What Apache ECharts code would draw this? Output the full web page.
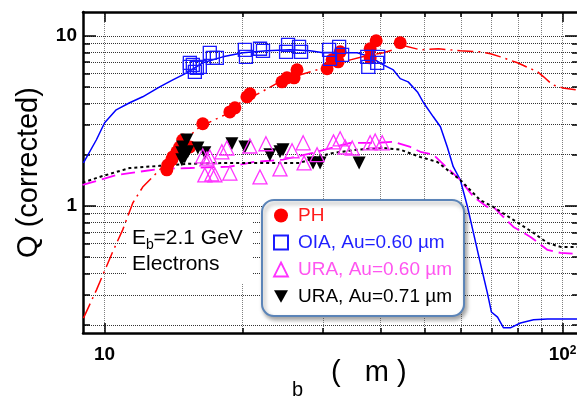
<!DOCTYPE html>
<html>
<head>
<meta charset="utf-8">
<script src="https://cdn.jsdelivr.net/npm/echarts@6/dist/echarts.min.js"></script>
<style>
html, body { margin: 0; padding: 0; background: #fff; }
#chart { width: 577px; height: 397px; }
</style>
</head>
<body>
<div id="chart"></div>
<script>
// tick / grid values
const xGrid = [10, 20, 30, 40, 50, 60, 70, 80, 90, 100]
const xMajor = [10, 100]
const yGrid = [0.2, 0.3, 0.4, 0.5, 0.6, 0.7, 0.8, 0.9, 1, 2, 3, 4, 5, 6, 7, 8, 9, 10]
const yMajor = [1, 10]

// model curves
const oiaCurve = [[8.99,1.79],[9.59,2.44],[10,3.08],[10.6,3.67],[11.34,4.04],[12.11,4.38],[13.19,5.01],[14.09,5.51],[15.11,6.06],[16.38,6.94],[18.12,7.52],[20.04,7.94],[22.62,8.16],[25.4,8.27],[28.1,8.16],[30,7.94],[32.2,7.94],[35.6,7.94],[38,7.52],[40.6,6.75],[42.7,6.3],[44.2,5.6],[46,5.36],[48.2,4.68],[49.7,4.04],[52.2,3.34],[54.1,2.92],[56,2.22],[57.7,1.7],[59.8,1.42],[62,0.986],[66.1,0.462],[68.5,0.308],[69.9,0.238],[72.1,0.222],[74.3,0.192],[76.9,0.192],[80.9,0.205],[86.4,0.214],[92.7,0.216],[100.5,0.216],[107.5,0.216]]
const phCurve = [[8.99,0.219],[9.6,0.321],[10.41,0.536],[10.95,0.723],[11.52,1.04],[12.11,1.29],[12.67,1.46],[13.19,1.63],[14.74,2.35],[16.14,2.92],[18.31,3.43],[19.74,4.04],[21.84,4.62],[24.52,5.51],[29.1,6.31],[34.4,7.22],[38,7.73],[40.6,7.94],[42.7,8.27],[44.2,8.85],[48.9,8.27],[53.6,8.39],[59.8,8.16],[66.1,8.05],[69.6,7.84],[73.2,7.52],[79.7,6.94],[88.2,6.14],[90.9,5.74],[95.1,5.15],[100,4.94],[106.8,4.81]]
const ura60Curve = [[8.95,1.33],[9.75,1.42],[10.62,1.52],[11.34,1.56],[13.19,1.65],[15.35,1.67],[18.77,1.7],[21.08,1.81],[24.52,1.87],[28.5,2.05],[34.4,2.35],[39.4,2.35],[42.7,2.38],[46.5,2.22],[48.9,2.08],[52.2,2.0],[56,1.67],[59.8,1.42],[63.9,1.13],[68.5,0.986],[70.6,0.986],[78.1,0.752],[85.1,0.657],[92.7,0.551],[99,0.529],[107.5,0.522]]
const ura71Curve = [[8.95,1.37],[9.75,1.48],[11.34,1.67],[13.19,1.72],[15.35,1.77],[18.77,1.79],[22.62,1.79],[26.7,1.79],[29.1,1.94],[31.6,2.05],[35.6,2.14],[40.6,2.19],[44.2,2.14],[48.9,1.94],[53.3,1.81],[59.8,1.42],[66.1,1.08],[70.6,0.986],[78.1,0.827],[86.4,0.694],[92.7,0.606],[99,0.574],[107.5,0.574]]

// measured points
const phPoints = [[13.67,1.63],[13.74,1.74],[14.02,1.87],[14.09,1.94],[14.38,2.08],[14.59,2.22],[14.81,2.44],[15.35,2.22],[16.38,3.04],[18.77,3.57],[19.25,3.77],[20.45,4.38],[20.76,4.56],[24.39,5.36],[25.01,5.66],[25.92,5.66],[26.31,6.31],[30.6,6.4],[31.38,7.22],[32.35,7.03],[32.68,8.05],[38,7.42],[38,8.39],[39.17,9.35],[44.2,9.1]]
const oiaPoints = [[15.35,6.57],[15.58,6.75],[15.74,6.14],[15.9,6.48],[16.14,6.57],[15.35,6.94],[16.97,7.94],[17.23,7.42],[17.58,7.42],[20.24,8.27],[20.35,7.52],[21.84,8.39],[22.17,8.16],[24.9,8.05],[25.15,8.85],[26.58,8.61],[26.85,8.05],[30.91,8.27],[31.06,7.32],[32.51,8.61],[33,7.73],[37.45,7.52],[37.64,6.57],[39.37,6.94],[39.57,7.52]]
const ura60Points = [[16.38,1.97],[16.72,1.89],[16.97,1.94],[16.55,1.52],[17.14,1.54],[17.41,1.52],[18.77,1.56],[18.03,2.08],[18.49,2.19],[20.76,2.25],[21.84,1.48],[22.5,2.32],[24.15,1.65],[25.66,2.11],[27.13,2.35],[27.26,1.79],[29.1,2.0],[31.6,2.38],[32.68,2.48],[33.51,2.22],[34.72,2.19],[38,2.35],[38.97,2.41],[40.38,2.35]]
const ura71Points = [[15.11,2.44],[14.81,2.22],[14.74,2.05],[14.96,1.94],[14.74,1.87],[15.19,2.08],[15.98,2.19],[16.55,2.05],[18.96,2.32],[20.24,2.22],[22.96,2.0],[24.15,2.08],[24.52,2.14],[28.52,1.79],[29.54,1.79],[35.95,1.79]]

const FONT = 'Liberation Sans, Arial, sans-serif'
const X_MIN = 8.97, X_MAX = 107.5
const Y_MIN = 0.179, Y_MAX = 13.8

function xAxisDef(pos, values, len, extra) {
  return Object.assign({
    type: 'log', position: pos, min: X_MIN, max: X_MAX,
    axisLine: { show: false },
    axisTick: { inside: true, length: len, customValues: values, lineStyle: { color: '#000', width: 1.5 } },
    axisLabel: { show: false },
    splitLine: { show: false },
    minorTick: { show: false },
  }, extra)
}
function yAxisDef(pos, values, len, extra) {
  return Object.assign({
    type: 'log', position: pos, min: Y_MIN, max: Y_MAX,
    axisLine: { show: false },
    axisTick: { inside: true, length: len, customValues: values, lineStyle: { color: '#000', width: 1.5 } },
    axisLabel: { show: false },
    splitLine: { show: false },
    minorTick: { show: false },
  }, extra)
}

const myChart = echarts.init(document.getElementById('chart'))

myChart.setOption({
  animation: false,
  grid: { left: 83, top: 12, right: 0, bottom: 64, outerBoundsMode: 'none' },
  xAxis: [
    xAxisDef('bottom', xGrid, 5, {
      axisLine: { show: true, lineStyle: { color: '#000', width: 2.5 } },
      axisLabel: {
        show: true, customValues: xMajor, margin: 12,
        color: '#000', fontSize: 19, fontWeight: 'bold', fontFamily: FONT,
        formatter: function (v) {
          const e = Math.round(Math.log10(v))
          return e === 1 ? '10' : '10{sup|' + e + '}'
        },
        rich: { sup: { fontSize: 12, fontWeight: 'bold', fontFamily: FONT, color: '#000', verticalAlign: 'top', padding: [0, 0, 8, 0] } },
      },
      splitLine: { show: true, lineStyle: { type: 'dotted', color: '#808080', width: 1 } },
    }),
    xAxisDef('bottom', xMajor, 10),
    xAxisDef('top', xGrid, 5, { axisLine: { show: true, lineStyle: { color: '#000', width: 2.5 } } }),
    xAxisDef('top', xMajor, 10),
  ],
  yAxis: [
    yAxisDef('left', yGrid, 7, {
      axisLine: { show: true, lineStyle: { color: '#000', width: 2.5 } },
      axisLabel: {
        show: true, customValues: yMajor, margin: 6,
        color: '#000', fontSize: 19, fontWeight: 'bold', fontFamily: FONT,
        formatter: function (v) { return String(Math.round(v)) },
      },
      splitLine: { show: true, lineStyle: { type: 'dotted', color: '#333', width: 1 } },
      name: 'Q (corrected)',
      nameLocation: 'middle',
      nameGap: 40,
      nameTextStyle: { fontSize: 29, color: '#000', fontFamily: FONT },
    }),
    yAxisDef('left', yMajor, 13),
    yAxisDef('right', yGrid, 5),
    yAxisDef('right', yMajor, 12),
  ],
  legend: {
    orient: 'vertical',
    left: 262,
    top: 200,
    padding: [6, 12, 10, 11],
    itemWidth: 14,
    itemHeight: 14,
    itemGap: 8,
    selectedMode: false,
    backgroundColor: '#fff',
    borderColor: '#5b84b8',
    borderWidth: 2,
    borderRadius: 12,
    shadowColor: 'rgba(0,0,0,0.35)',
    shadowBlur: 4,
    shadowOffsetX: 2,
    shadowOffsetY: 3,
    textStyle: { fontSize: 19, fontFamily: FONT, padding: [0, 0, 0, 5] },
    data: [
      { name: 'PH', textStyle: { color: '#ff1a1a' } },
      { name: 'OIA, Au=0.60 µm', textStyle: { color: '#1f1fff' }, itemStyle: { borderWidth: 2 } },
      { name: 'URA, Au=0.60 µm', textStyle: { color: '#ff55f0' }, itemStyle: { borderWidth: 1.8 } },
      { name: 'URA, Au=0.71 µm', textStyle: { color: '#000' }, icon: 'path://M0,0L10,0L5,9Z' },
    ],
  },
  graphic: [
    { type: 'rect', z: 1, shape: { x: 126, y: 216, width: 126, height: 68 }, style: { fill: '#fff' } },
    { type: 'text', z: 10, style: { x: 132, y: 238.6, text: 'E', font: '21px ' + FONT, fill: '#000', verticalAlign: 'middle' } },
    { type: 'text', z: 10, style: { x: 146, y: 245, text: 'b', font: '14px ' + FONT, fill: '#000', verticalAlign: 'middle' } },
    { type: 'text', z: 10, style: { x: 153.5, y: 238.6, text: '=2.1 GeV', font: '21px ' + FONT, fill: '#000', verticalAlign: 'middle' } },
    { type: 'text', z: 10, style: { x: 132, y: 264.6, text: 'Electrons', font: '21px ' + FONT, fill: '#000', verticalAlign: 'middle' } },
    { type: 'text', z: 10, style: { x: 292, y: 390.6, text: 'b', font: '20px ' + FONT, fill: '#000', verticalAlign: 'middle' } },
    { type: 'text', z: 10, style: { x: 331, y: 373, text: '(   m )', font: '29px ' + FONT, fill: '#000', verticalAlign: 'middle' } },
  ],
  series: [
    {
      name: 'oia model', type: 'line', data: oiaCurve, showSymbol: false, symbol: 'none',
      lineStyle: { color: '#0000ff', width: 1.5 }, z: 3,
    },
    {
      name: 'ph model', type: 'line', data: phCurve, showSymbol: false, symbol: 'none',
      lineStyle: { color: '#ff0000', width: 1.5, type: [16, 5, 2, 5] }, z: 3,
    },
    {
      name: 'ura60 model', type: 'line', data: ura60Curve, showSymbol: false, symbol: 'none',
      lineStyle: { color: '#ff00ff', width: 1.8, type: [14, 6] }, z: 3,
    },
    {
      name: 'ura71 model', type: 'line', data: ura71Curve, showSymbol: false, symbol: 'none',
      lineStyle: { color: '#000', width: 2, type: [3, 3] }, z: 3,
    },
    {
      name: 'PH', type: 'scatter', data: phPoints, symbol: 'circle', symbolSize: 13,
      itemStyle: { color: '#ff0000', opacity: 1 }, z: 4,
    },
    {
      name: 'URA, Au=0.71 µm', type: 'scatter', data: ura71Points, symbol: 'triangle', symbolRotate: 180, symbolSize: 13,
      itemStyle: { color: '#000', opacity: 1 }, z: 5,
    },
    {
      name: 'URA, Au=0.60 µm', type: 'scatter', data: ura60Points, symbol: 'triangle', symbolSize: 14,
      itemStyle: { color: 'rgba(255,255,255,0)', borderColor: '#ff33ff', borderWidth: 1.3, opacity: 1 }, z: 6,
    },
    {
      name: 'OIA, Au=0.60 µm', type: 'scatter', data: oiaPoints, symbol: 'rect', symbolSize: 13,
      itemStyle: { color: 'rgba(255,255,255,0)', borderColor: '#1a1aff', borderWidth: 1.3, opacity: 1 }, z: 7,
    },
  ],
})
</script>
</body>
</html>
